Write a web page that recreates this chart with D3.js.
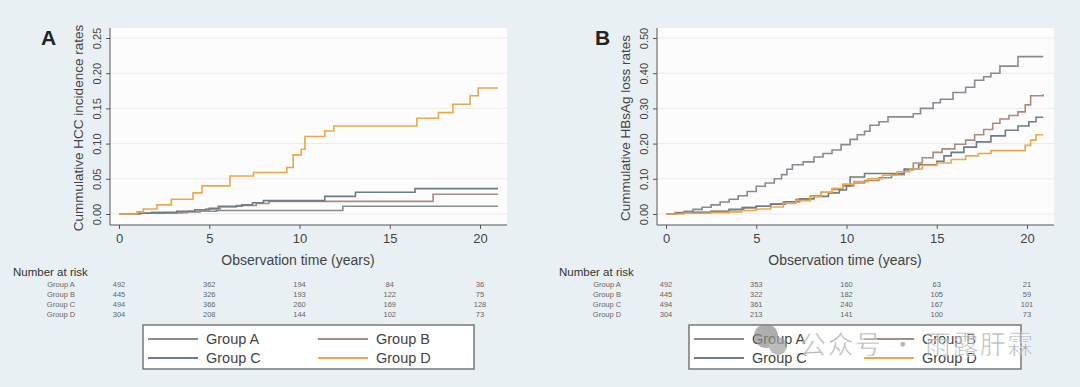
<!DOCTYPE html>
<html>
<head>
<meta charset="utf-8">
<script src="https://cdn.jsdelivr.net/npm/d3@7"></script>
<style>
  body { margin: 0; background: #e9f0f3; }
  svg { display: block; font-family: "Liberation Sans", Arial, sans-serif; }
</style>
</head>
<body>
<script>
// tick labels and categories
const groups = ['Group A', 'Group B', 'Group C', 'Group D'];
const xTicks = [0, 5, 10, 15, 20];
const hccTicks = [0, 0.05, 0.1, 0.15, 0.2, 0.25];
const lossTicks = [0, 0.1, 0.2, 0.3, 0.4, 0.5];

// panel A: cumulative HCC incidence, [years, rate]
const hccA = [[0, 0], [1.2, 0.001], [1.8, 0.002], [3.5, 0.003], [4.5, 0.004], [5.4, 0.005], [12.4, 0.011], [21, 0.011]];
const hccB = [[0, 0], [1.1, 0.001], [2.5, 0.002], [3.8, 0.004], [4.8, 0.007], [5.6, 0.010], [6.5, 0.012], [7.6, 0.015], [8.3, 0.018], [17.4, 0.028], [21, 0.028]];
const hccC = [[0, 0], [1.0, 0.001], [1.8, 0.002], [3.2, 0.004], [4.2, 0.006], [5.0, 0.008], [5.5, 0.011], [6.8, 0.013], [7.4, 0.016], [8.0, 0.019], [11.4, 0.025], [13.1, 0.031], [16.4, 0.036], [21, 0.036]];
const hccD = [[0, 0], [1.0, 0.003], [1.35, 0.007], [2.1, 0.013], [2.9, 0.021], [4.1, 0.030], [4.6, 0.040], [6.15, 0.054], [7.45, 0.059], [9.3, 0.066], [9.65, 0.084], [10.1, 0.092], [10.3, 0.110], [11.4, 0.118], [11.9, 0.125], [16.5, 0.136], [17.7, 0.144], [18.5, 0.156], [19.45, 0.168], [19.9, 0.179], [21, 0.179]];

// panel B: cumulative HBsAg loss, [years, rate]
const lossA = [[0, 0], [0.5, 0.004], [1.0, 0.008], [1.5, 0.013], [2.0, 0.019], [2.5, 0.026], [3.0, 0.034], [3.5, 0.042], [4.0, 0.052], [4.5, 0.064], [5.0, 0.079], [5.5, 0.088], [6.0, 0.1], [6.4, 0.112], [6.7, 0.127], [7.0, 0.14], [7.6, 0.148], [8.2, 0.162], [8.7, 0.172], [9.2, 0.182], [9.7, 0.197], [10.2, 0.212], [10.6, 0.225], [11.0, 0.235], [11.3, 0.252], [11.8, 0.262], [12.3, 0.276], [13.7, 0.285], [14.1, 0.3], [14.8, 0.316], [15.2, 0.326], [15.9, 0.345], [16.6, 0.36], [17.1, 0.38], [17.6, 0.39], [18.0, 0.4], [18.5, 0.42], [19.5, 0.447], [20.9, 0.447]];
const lossB = [[0, 0], [0.5, 0.002], [1.5, 0.004], [2.5, 0.007], [3.5, 0.012], [4.2, 0.018], [5.0, 0.022], [5.8, 0.028], [6.5, 0.035], [7.2, 0.042], [8.0, 0.052], [8.6, 0.062], [9.2, 0.07], [9.8, 0.08], [10.4, 0.088], [11.0, 0.095], [11.8, 0.103], [12.5, 0.112], [13.2, 0.125], [13.7, 0.145], [14.2, 0.16], [14.8, 0.175], [15.3, 0.185], [16.0, 0.198], [16.6, 0.21], [17.1, 0.225], [17.6, 0.24], [18.1, 0.258], [18.5, 0.27], [19.0, 0.28], [19.5, 0.29], [19.9, 0.31], [20.2, 0.336], [20.9, 0.34]];
const lossC = [[0, 0], [0.6, 0.003], [1.5, 0.005], [2.5, 0.008], [3.5, 0.013], [4.3, 0.018], [5.0, 0.022], [5.8, 0.028], [6.6, 0.035], [7.4, 0.043], [8.2, 0.05], [9.0, 0.06], [9.6, 0.068], [10.0, 0.08], [10.2, 0.105], [11.0, 0.115], [12.9, 0.115], [13.2, 0.128], [14.0, 0.14], [15.0, 0.15], [15.4, 0.165], [15.8, 0.175], [16.5, 0.19], [17.2, 0.205], [18.0, 0.222], [18.8, 0.238], [19.5, 0.25], [20.1, 0.262], [20.5, 0.275], [20.9, 0.275]];
const lossD = [[0, 0], [1.0, 0.002], [2.5, 0.004], [3.5, 0.006], [4.2, 0.01], [5.0, 0.014], [5.8, 0.02], [6.5, 0.03], [7.2, 0.038], [8.0, 0.05], [8.6, 0.062], [9.2, 0.073], [9.8, 0.085], [10.4, 0.092], [11.2, 0.1], [12.0, 0.11], [12.8, 0.12], [13.5, 0.128], [14.2, 0.138], [15.0, 0.145], [15.8, 0.155], [16.6, 0.165], [17.3, 0.172], [18.0, 0.18], [19.7, 0.18], [19.9, 0.195], [20.2, 0.21], [20.5, 0.225], [20.9, 0.225]];

// number at risk at 0, 5, 10, 15, 20 years
const riskHccA = [492, 362, 194, 84, 36];
const riskHccB = [445, 326, 193, 122, 75];
const riskHccC = [494, 366, 260, 169, 128];
const riskHccD = [304, 208, 144, 102, 73];
const riskLossA = [492, 353, 160, 63, 21];
const riskLossB = [445, 322, 182, 105, 59];
const riskLossC = [494, 361, 240, 167, 101];
const riskLossD = [304, 213, 141, 100, 73];

const colors = ['#858b91', '#a98a80', '#6f7b86', '#eaa84a'];

const svg = d3.select('body').append('svg').attr('width', 1080).attr('height', 387);

function drawPanel(cfg) {
  const g = svg.append('g').attr('transform', `translate(${cfg.left},0)`);
  // plot region in local coords
  const axisX = 110, right = 507, top = 28, bottom = 225;
  const x = d3.scaleLinear().domain([0, 20]).range([119, 480]);
  const y = d3.scaleLinear().domain([0, cfg.yMax]).range([214, 38]);

  g.append('rect').attr('x', axisX).attr('y', top)
    .attr('width', right - axisX).attr('height', bottom - top).attr('fill', '#fcfcfc');

  // gridlines
  g.selectAll('.grid').data(cfg.yTicks).join('line')
    .attr('x1', axisX).attr('x2', right)
    .attr('y1', d => y(d)).attr('y2', d => y(d))
    .attr('stroke', '#ebebeb').attr('stroke-width', 1);

  // y axis, labels turned to read upward
  const yAxis = g.append('g').attr('transform', `translate(${axisX},0)`)
    .call(d3.axisLeft(y).tickValues(cfg.yTicks).tickFormat(d3.format('.2f')).tickSize(4).tickSizeOuter(0));
  yAxis.select('.domain').attr('d', `M0,${top}V${bottom}`).attr('stroke', '#555');
  yAxis.selectAll('line').attr('stroke', '#555');
  yAxis.selectAll('text')
    .attr('x', 0).attr('y', 0).attr('dy', 0)
    .attr('transform', 'translate(-9,0) rotate(-90)')
    .attr('text-anchor', 'middle')
    .attr('fill', '#444').attr('font-size', 11);

  // x axis
  const xAxis = g.append('g').attr('transform', `translate(0,${bottom})`)
    .call(d3.axisBottom(x).tickValues(xTicks).tickSize(4).tickSizeOuter(0));
  xAxis.select('.domain').attr('d', `M${axisX},0H${right}`).attr('stroke', '#555');
  xAxis.selectAll('line').attr('stroke', '#555');
  xAxis.selectAll('text').attr('y', 9).attr('fill', '#444').attr('font-size', 13);

  g.append('text').attr('x', 298).attr('y', 265).attr('text-anchor', 'middle')
    .attr('font-size', 14).attr('fill', '#444').text('Observation time (years)');
  g.append('text').attr('transform', `translate(${cfg.titleX},128) rotate(-90)`)
    .attr('text-anchor', 'middle').attr('font-size', 13.5).attr('fill', '#444').text(cfg.yTitle);
  g.append('text').attr('x', cfg.letterX).attr('y', 45).attr('font-size', 21)
    .attr('font-weight', 'bold').attr('fill', '#222').text(cfg.letter);

  // curves
  const line = d3.line().x(d => x(d[0])).y(d => y(d[1])).curve(d3.curveStepAfter);
  g.selectAll('.curve').data(cfg.series).join('path')
    .attr('d', line).attr('fill', 'none')
    .attr('stroke', (d, i) => colors[i]).attr('stroke-width', 1.6);

  // number at risk table
  g.append('text').attr('x', cfg.riskX).attr('y', 276).attr('font-size', 11.5)
    .attr('fill', '#333').text('Number at risk');
  cfg.risk.forEach((row, i) => {
    const ry = 287 + i * 10;
    g.append('text').attr('x', cfg.groupX).attr('y', ry).attr('text-anchor', 'middle')
      .attr('font-size', 7.5).attr('fill', '#666').text(groups[i]);
    g.selectAll(null).data(row).join('text')
      .attr('x', (d, j) => x(xTicks[j])).attr('y', ry).attr('text-anchor', 'middle')
      .attr('font-size', 7.5).attr('fill', '#666').text(d => d);
  });

  // legend
  const lg = g.append('g');
  lg.append('rect').attr('x', cfg.legX).attr('y', 325).attr('width', cfg.legW).attr('height', 44)
    .attr('fill', '#fff').attr('stroke', '#777').attr('stroke-width', 1.5);
  groups.forEach((name, i) => {
    const col = i % 2, row = Math.floor(i / 2);
    const lx = cfg.legX + 5 + col * cfg.legCol;
    const ly = 339 + row * 19;
    lg.append('line').attr('x1', lx).attr('x2', lx + 50).attr('y1', ly).attr('y2', ly)
      .attr('stroke', colors[i]).attr('stroke-width', 1.8);
    lg.append('text').attr('x', lx + 58).attr('y', ly + 5).attr('font-size', 14.5)
      .attr('fill', '#444').text(name);
  });
}

drawPanel({
  left: 0, yMax: 0.25, yTicks: hccTicks, letter: 'A', letterX: 41, titleX: 83,
  yTitle: 'Cummulative HCC incidence rates',
  series: [hccA, hccB, hccC, hccD],
  risk: [riskHccA, riskHccB, riskHccC, riskHccD],
  riskX: 13, groupX: 61, legX: 143, legW: 331, legCol: 170
});

drawPanel({
  left: 547, yMax: 0.5, yTicks: lossTicks, letter: 'B', letterX: 48, titleX: 83,
  yTitle: 'Cummulative HBsAg loss rates',
  series: [lossA, lossB, lossC, lossD],
  risk: [riskLossA, riskLossB, riskLossC, riskLossD],
  riskX: 12, groupX: 60, legX: 142, legW: 332, legCol: 170
});

// watermark over the right legend
const wm = svg.append('g').attr('opacity', 0.7);
wm.append('circle').attr('cx', 766).attr('cy', 336).attr('r', 12).attr('fill', '#8d8d8d');
wm.append('circle').attr('cx', 778).attr('cy', 346).attr('r', 9).attr('fill', '#a0a0a0');
wm.append('text').attr('x', 800).attr('y', 354).attr('font-size', 26)
  .attr('letter-spacing', 1.5)
  .attr('font-family', '"Noto Sans CJK SC", sans-serif').attr('fill', '#999')
  .attr('stroke', '#fff').attr('stroke-width', 0.6)
  .text('公众号 · 雨露肝霖');
</script>
</body>
</html>
